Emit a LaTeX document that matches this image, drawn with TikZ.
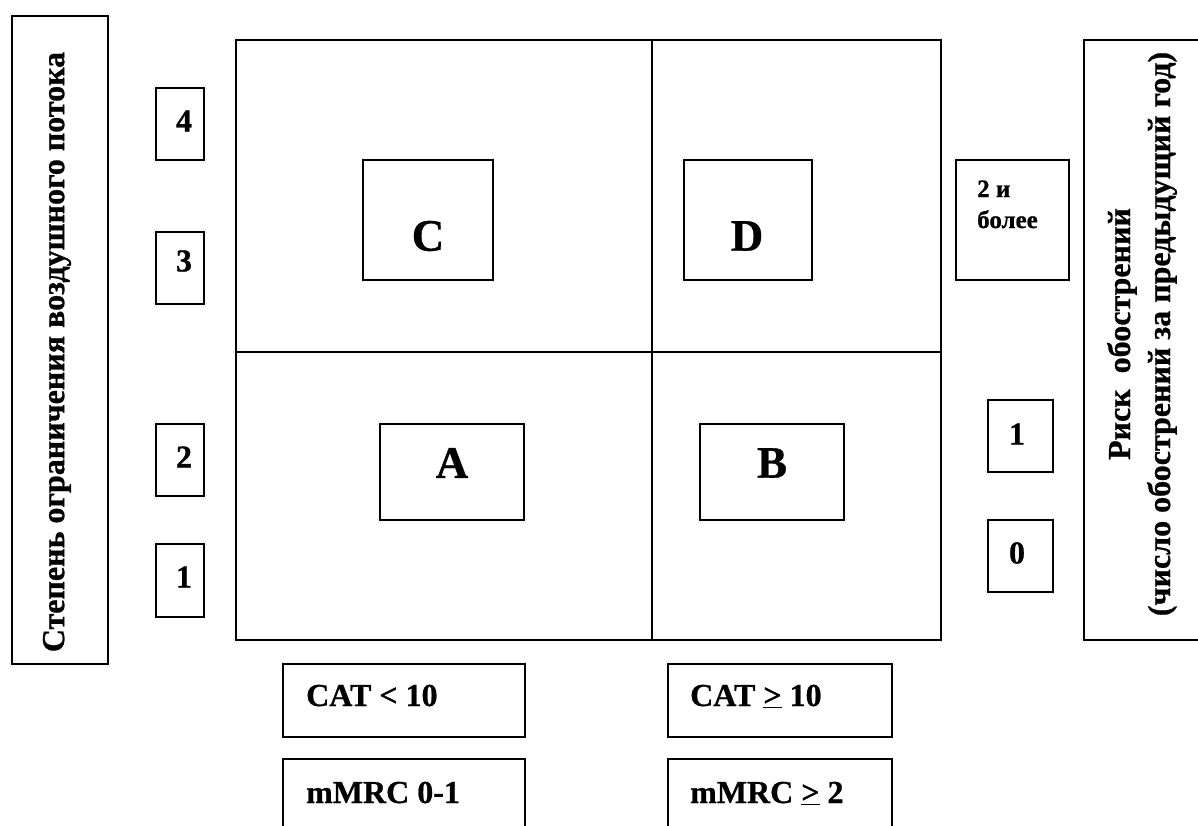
\documentclass[tikz,border=0pt]{standalone}
\usepackage{fontspec}
\setmainfont{Liberation Serif}[BoldFont={Liberation Serif Bold},BoldFeatures={FakeBold=0.8}]
\begin{document}
\begin{tikzpicture}[x=1pt,y=-1pt,
  box/.style={draw,line width=1.6pt,inner sep=0pt},
  lbl/.style={inner sep=0pt,font=\fontsize{32}{40}\bfseries\selectfont},
  big/.style={inner sep=0pt,font=\fontsize{45}{50}\bfseries\selectfont},
  small/.style={inner sep=0pt,font=\fontsize{25}{31}\bfseries\selectfont,align=left}]
\useasboundingbox (0,0) rectangle (1198,825);
\clip (0,0) rectangle (1198,825);
% side label boxes
\draw[box] (12,16) rectangle (108,664);
\node[lbl,rotate=90] (ylab) at (57,352) {Степень ограничения воздушного потока};
\draw[box] (1084,40) rectangle (1215,640);
\node[lbl,rotate=90,align=center] (rlab) at (1142,334) {Риск\ \ обострений\\(число обострений за предыдущий год)};
% main grid
\coordinate (tl) at (236,40);
\coordinate (br) at (941,640);
\coordinate (mt) at (652,40);
\coordinate (mb) at (652,640);
\coordinate (ml) at (236,352);
\coordinate (mr) at (941,352);
\draw[line width=1.6pt] (tl) rectangle (br);
\draw[line width=1.6pt] (mt) -- (mb);
\draw[line width=1.6pt] (ml) -- (mr);
% left numeric boxes
\draw[box] (156,88) rectangle (204,160);
\node[lbl] (n4) at (184,121) {4};
\draw[box] (156,232) rectangle (204,304);
\node[lbl] (n3) at (184,261) {3};
\draw[box] (156,424) rectangle (204,496);
\node[lbl] (n2) at (184,457) {2};
\draw[box] (156,544) rectangle (204,617);
\node[lbl] (n1) at (184,577) {1};
% quadrant boxes
\draw[box] (363,160) rectangle (493,280);
\node[big] (C) at (428,236) {C};
\draw[box] (684,160) rectangle (812,280);
\node[big] (D) at (747,236) {D};
\draw[box] (380,424) rectangle (524,520);
\node[big] (A) at (452,463) {A};
\draw[box] (700,424) rectangle (844,520);
\node[big] (B) at (772,463) {B};
% right numeric boxes
\draw[box] (956,160) rectangle (1069,280);
\node[small,anchor=base west] (r2) at (977,228) {2 и\\более};
\draw[box] (988,400) rectangle (1053,472);
\node[lbl] (r1) at (1017,434) {1};
\draw[box] (988,520) rectangle (1053,592);
\node[lbl] (r0) at (1017,553) {0};
% bottom boxes
\draw[box] (283,664) rectangle (525,737);
\node[lbl,anchor=base west] (cat1) at (306,706) {CAT < 10};
\draw[box] (668,664) rectangle (892,737);
\node[lbl,anchor=base west] (cat2) at (690,706) {CAT \underline{>} 10};
\draw[box] (283,759) rectangle (525,850);
\node[lbl,anchor=base west] (mm1) at (306,803) {mMRC 0-1};
\draw[box] (668,759) rectangle (892,850);
\node[lbl,anchor=base west] (mm2) at (690,803) {mMRC \underline{>} 2};
\end{tikzpicture}
\end{document}
